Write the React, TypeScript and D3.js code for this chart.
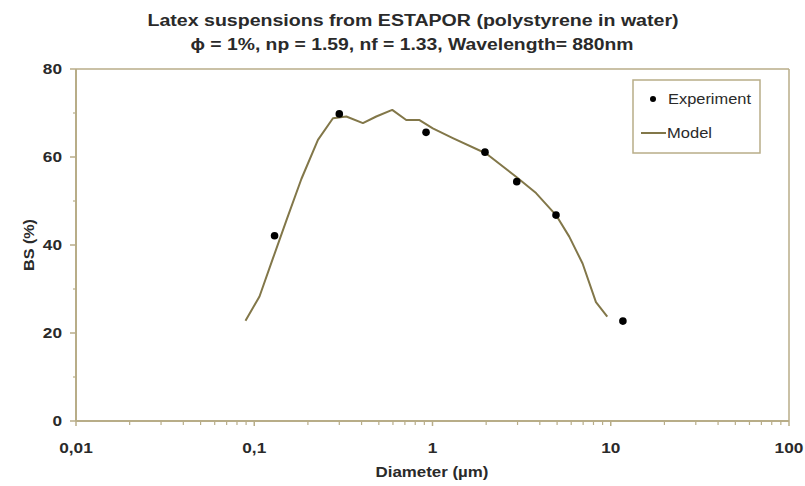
import React from "react";
import * as d3 from "d3";

const expX = [0.13, 0.3, 0.92, 1.97, 2.97, 4.93, 11.7];
const expY = [42.1, 69.8, 65.6, 61.1, 54.4, 46.8, 22.7];

const modelX = [0.0893, 0.107, 0.1274, 0.1515, 0.1838, 0.2277, 0.2764, 0.3285, 0.407, 0.4837, 0.5944, 0.7123, 0.8456, 1.004, 1.3, 2.0, 2.944, 3.81, 4.93, 5.85, 6.95, 8.26, 9.56];
const modelY = [22.8, 28.3, 37.0, 45.6, 55.0, 63.9, 68.8, 69.2, 67.7, 69.2, 70.7, 68.4, 68.4, 66.5, 64.3, 60.8, 55.5, 51.8, 46.8, 41.9, 35.8, 27.0, 23.7];

const yTicks = [0, 20, 40, 60, 80];
const yMinor = [10, 30, 50, 70];
const xTicks = [0.01, 0.1, 1, 10, 100];
const xTickLabels = ["0,01", "0,1", "1", "10", "100"];

const title1 = "Latex suspensions from  ESTAPOR (polystyrene in water)";
const title2 = "\u03d5 = 1%, np = 1.59, nf = 1.33, Wavelength= 880nm";

export default function App() {
  const W = 805, H = 486;
  const L = 76, R = 789, T = 69, B = 421;
  const x = d3.scaleLog().domain([0.01, 100]).range([L, R]);
  const y = d3.scaleLinear().domain([0, 80]).range([B, T]);
  const axisColor = "#b8ad88";
  const lineColor = "#827749";
  const textColor = "#2a2a2a";
  const font = "'Liberation Sans', Arial, sans-serif";
  const sx = 1.15;

  const minorX: number[] = [];
  for (let e = -2; e < 2; e++) {
    for (let k = 2; k <= 9; k++) minorX.push(k * Math.pow(10, e));
  }

  const line = d3
    .line<number>()
    .x((_, i) => x(modelX[i]))
    .y((d) => y(d));

  return (
    <svg
      width={W}
      height={H}
      style={{ position: "absolute", left: 0, top: 0, background: "#fff" }}
      fontFamily={font}
    >
      <rect x={0} y={0} width={W} height={H} fill="#fff" />
      <text x={413} y={26} textAnchor="middle" fontSize={16} fontWeight="bold" fill={textColor} textLength={531} lengthAdjust="spacingAndGlyphs">
        {title1}
      </text>
      <text x={412} y={50} textAnchor="middle" fontSize={16} fontWeight="bold" fill={textColor} textLength={443} lengthAdjust="spacingAndGlyphs">
        {title2}
      </text>

      {/* plot frame */}
      <line x1={L} x2={R} y1={T} y2={T} stroke={axisColor} strokeWidth={1.5} />
      <line x1={R} x2={R} y1={T} y2={B} stroke={axisColor} strokeWidth={1.5} />
      <line x1={L} x2={L} y1={T} y2={B} stroke={axisColor} strokeWidth={2} />
      <line x1={L} x2={R} y1={B} y2={B} stroke={axisColor} strokeWidth={2} />

      {/* y ticks */}
      {yTicks.map((t) => (
        <g key={"yt" + t}>
          <line x1={L - 6} x2={L} y1={y(t)} y2={y(t)} stroke={axisColor} strokeWidth={1.5} />
          <text transform={`translate(${L - 14},${y(t) + 5}) scale(${sx},1)`} textAnchor="end" fontSize={15} fontWeight="bold" fill={textColor}>
            {t}
          </text>
        </g>
      ))}
      {yMinor.map((t) => (
        <line key={"ym" + t} x1={L - 3} x2={L} y1={y(t)} y2={y(t)} stroke={axisColor} strokeWidth={1.2} />
      ))}

      {/* x ticks */}
      {xTicks.map((t, i) => (
        <g key={"xt" + t}>
          <line x1={x(t)} x2={x(t)} y1={B} y2={B + 5} stroke={axisColor} strokeWidth={1.5} />
          <text transform={`translate(${x(t)},${B + 32}) scale(${sx},1)`} textAnchor="middle" fontSize={15} fontWeight="bold" fill={textColor}>
            {xTickLabels[i]}
          </text>
        </g>
      ))}
      {minorX.map((t) => (
        <line key={"xm" + t} x1={x(t)} x2={x(t)} y1={B} y2={B + 4} stroke={axisColor} strokeWidth={1.2} />
      ))}

      {/* axis titles */}
      <text x={432} y={477} textAnchor="middle" fontSize={15} fontWeight="bold" fill={textColor} textLength={113} lengthAdjust="spacingAndGlyphs">
        Diameter (µm)
      </text>
      <text transform={`translate(34,245) rotate(-90)`} textAnchor="middle" fontSize={15} fontWeight="bold" fill={textColor} textLength={52} lengthAdjust="spacingAndGlyphs">
        BS (%)
      </text>

      {/* model line */}
      <path d={line(modelY) || ""} fill="none" stroke={lineColor} strokeWidth={2} strokeLinejoin="round" />

      {/* experiment points */}
      {expX.map((v, i) => (
        <circle key={"e" + i} cx={x(v)} cy={y(expY[i])} r={3.8} fill="#000" />
      ))}

      {/* legend */}
      <rect x={633} y={80} width={127} height={73} fill="#fff" stroke={axisColor} strokeWidth={1.5} />
      <circle cx={653} cy={99} r={3} fill="#000" />
      <text x={668} y={104} fontSize={14} fill={textColor} textLength={83} lengthAdjust="spacingAndGlyphs">
        Experiment
      </text>
      <line x1={641} x2={666} y1={133} y2={133} stroke={lineColor} strokeWidth={2} />
      <text x={667} y={138} fontSize={14} fill={textColor} textLength={45} lengthAdjust="spacingAndGlyphs">
        Model
      </text>
    </svg>
  );
}
